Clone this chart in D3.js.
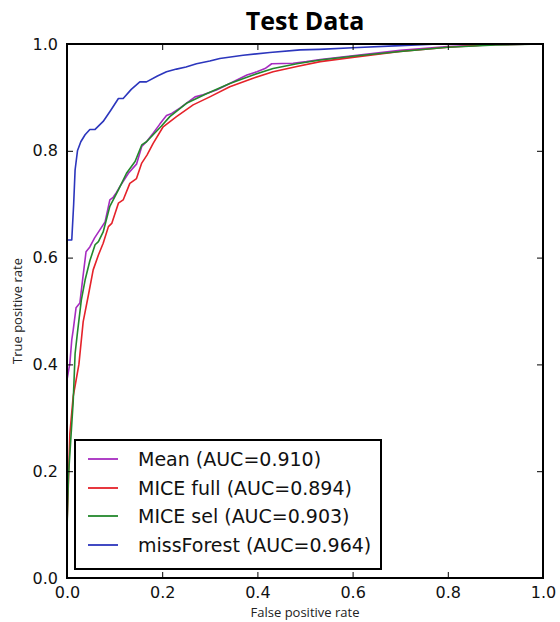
<!DOCTYPE html>
<html>
<head>
<meta charset="utf-8">
<script src="https://cdn.jsdelivr.net/npm/d3@7"></script>
<style>
  html, body { margin: 0; padding: 0; background: #fff; }
  svg { display: block; }
</style>
</head>
<body>
<svg id="chart" width="560" height="622"></svg>
<script>
// ---- data ----
const seriesNames = ["Mean (AUC=0.910)", "MICE full (AUC=0.894)", "MICE sel (AUC=0.903)", "missForest (AUC=0.964)"];
const seriesColors = ["#a62cc0", "#e5222a", "#23882c", "#2c36bd"];

const meanFpr = [0, 0, 0.006, 0.010, 0.013, 0.019, 0.027, 0.033, 0.040, 0.048, 0.058, 0.069, 0.080, 0.090, 0.097, 0.104, 0.111, 0.129, 0.146, 0.157, 0.167, 0.181, 0.195, 0.209, 0.220, 0.237, 0.269, 0.286, 0.314, 0.342, 0.378, 0.399, 0.416, 0.430, 0.475, 0.503, 0.532, 0.6, 0.7, 0.8, 0.9, 1];
const meanTpr = [0, 0.371, 0.402, 0.446, 0.464, 0.506, 0.515, 0.560, 0.611, 0.620, 0.637, 0.652, 0.667, 0.708, 0.713, 0.722, 0.733, 0.758, 0.775, 0.808, 0.817, 0.833, 0.850, 0.866, 0.870, 0.880, 0.901, 0.905, 0.914, 0.926, 0.942, 0.948, 0.954, 0.963, 0.964, 0.967, 0.971, 0.978, 0.988, 0.995, 0.999, 1];

const miceFullFpr = [0, 0, 0.003, 0.006, 0.013, 0.017, 0.025, 0.034, 0.045, 0.055, 0.066, 0.076, 0.087, 0.094, 0.108, 0.118, 0.132, 0.146, 0.157, 0.168, 0.181, 0.202, 0.230, 0.265, 0.300, 0.342, 0.391, 0.433, 0.483, 0.532, 0.6, 0.7, 0.8, 0.9, 1];
const miceFullTpr = [0, 0.10, 0.18, 0.27, 0.34, 0.36, 0.40, 0.48, 0.53, 0.577, 0.605, 0.627, 0.658, 0.664, 0.702, 0.708, 0.739, 0.748, 0.777, 0.792, 0.814, 0.845, 0.864, 0.886, 0.901, 0.920, 0.936, 0.948, 0.958, 0.967, 0.975, 0.986, 0.994, 0.999, 1];

const miceSelFpr = [0, 0, 0.003, 0.008, 0.013, 0.017, 0.022, 0.030, 0.038, 0.048, 0.059, 0.066, 0.076, 0.090, 0.108, 0.125, 0.143, 0.157, 0.167, 0.181, 0.198, 0.216, 0.251, 0.293, 0.342, 0.391, 0.433, 0.483, 0.532, 0.6, 0.7, 0.8, 0.9, 1];
const miceSelTpr = [0, 0.09, 0.19, 0.26, 0.33, 0.42, 0.46, 0.52, 0.558, 0.594, 0.624, 0.630, 0.648, 0.696, 0.727, 0.758, 0.780, 0.811, 0.817, 0.830, 0.846, 0.864, 0.889, 0.907, 0.926, 0.942, 0.954, 0.963, 0.970, 0.977, 0.986, 0.994, 0.998, 1];

const missForestFpr = [0, 0, 0.010, 0.014, 0.017, 0.022, 0.029, 0.038, 0.048, 0.059, 0.076, 0.092, 0.108, 0.118, 0.135, 0.153, 0.167, 0.190, 0.209, 0.230, 0.250, 0.272, 0.300, 0.321, 0.370, 0.426, 0.490, 0.530, 0.6, 0.7, 0.78, 0.9, 1];
const missForestTpr = [0, 0.633, 0.633, 0.700, 0.764, 0.800, 0.817, 0.830, 0.840, 0.840, 0.855, 0.876, 0.898, 0.898, 0.915, 0.929, 0.929, 0.940, 0.948, 0.953, 0.957, 0.963, 0.968, 0.973, 0.979, 0.984, 0.989, 0.990, 0.993, 0.997, 1.0, 1.0, 1.0];

const xTicks = [0, 0.2, 0.4, 0.6, 0.8, 1.0];
const yTicks = [0, 0.2, 0.4, 0.6, 0.8, 1.0];
const titleText = "Test Data";
const xLabel = "False positive rate";
const yLabel = "True positive rate";

// ---- layout ----
const L = 67, R = 543, T = 44, B = 578;
const svg = d3.select("#chart");
const x = d3.scaleLinear().domain([0, 1]).range([L, R]);
const y = d3.scaleLinear().domain([0, 1]).range([B, T]);

const series = [
  { name: seriesNames[0], color: seriesColors[0], fpr: meanFpr, tpr: meanTpr },
  { name: seriesNames[1], color: seriesColors[1], fpr: miceFullFpr, tpr: miceFullTpr },
  { name: seriesNames[2], color: seriesColors[2], fpr: miceSelFpr, tpr: miceSelTpr },
  { name: seriesNames[3], color: seriesColors[3], fpr: missForestFpr, tpr: missForestTpr }
];

svg.append("defs").append("clipPath").attr("id", "clip")
  .append("rect").attr("x", L).attr("y", T).attr("width", R - L).attr("height", B - T);

const line = d3.line().x(d => x(d[0])).y(d => y(d[1]));
const g = svg.append("g").attr("clip-path", "url(#clip)");
series.forEach(s => {
  g.append("path")
    .datum(s.fpr.map((f, i) => [f, s.tpr[i]]))
    .attr("fill", "none")
    .attr("stroke", s.color)
    .attr("stroke-width", 1.6)
    .attr("stroke-linejoin", "round")
    .attr("d", line);
});

// ---- axes (ticks inward on all sides) ----
const tickFont = "'DejaVu Sans', sans-serif";
function styleAxis(sel) {
  sel.select(".domain").remove();
  sel.selectAll(".tick line").attr("stroke", "#000").attr("stroke-width", 1);
  sel.selectAll(".tick text").attr("font-family", tickFont).attr("font-size", "16px").attr("fill", "#111");
}
const xb = svg.append("g").attr("transform", `translate(0,${B})`)
  .call(d3.axisBottom(x).tickValues(xTicks).tickFormat(d3.format(".1f")).tickSizeInner(-6).tickSizeOuter(0).tickPadding(10));
styleAxis(xb);
xb.selectAll(".tick text").attr("dy", "0.6em");
const xt = svg.append("g").attr("transform", `translate(0,${T})`)
  .call(d3.axisTop(x).tickValues(xTicks).tickFormat("").tickSizeInner(-6).tickSizeOuter(0));
styleAxis(xt);
const yl = svg.append("g").attr("transform", `translate(${L},0)`)
  .call(d3.axisLeft(y).tickValues(yTicks).tickFormat(d3.format(".1f")).tickSizeInner(-6).tickSizeOuter(0).tickPadding(9));
styleAxis(yl);
const yr = svg.append("g").attr("transform", `translate(${R},0)`)
  .call(d3.axisRight(y).tickValues(yTicks).tickFormat("").tickSizeInner(-6).tickSizeOuter(0));
styleAxis(yr);

// frame
svg.append("rect").attr("x", L).attr("y", T).attr("width", R - L).attr("height", B - T)
  .attr("fill", "none").attr("stroke", "#000").attr("stroke-width", 2);

// ---- title and labels ----
svg.append("text").attr("x", (L + R) / 2).attr("y", 30).attr("text-anchor", "middle")
  .attr("font-family", "'Open Sans', sans-serif").attr("font-weight", "bold").attr("font-size", "25px")
  .attr("fill", "#000").text(titleText);
svg.append("text").attr("x", (L + R) / 2).attr("y", 617).attr("text-anchor", "middle")
  .attr("font-family", "'Open Sans', sans-serif").attr("font-size", "13px").attr("fill", "#222").text(xLabel);
svg.append("text").attr("transform", `translate(22,${(T + B) / 2}) rotate(-90)`).attr("text-anchor", "middle")
  .attr("font-family", "'Open Sans', sans-serif").attr("font-size", "13px").attr("fill", "#222").text(yLabel);

// ---- legend ----
const lg = svg.append("g");
lg.append("rect").attr("x", 75).attr("y", 440).attr("width", 306).attr("height", 129)
  .attr("fill", "#fff").attr("stroke", "#000").attr("stroke-width", 2);
const rowY = [459, 488, 516, 545];
series.forEach((s, i) => {
  lg.append("line").attr("x1", 88).attr("x2", 118).attr("y1", rowY[i]).attr("y2", rowY[i])
    .attr("stroke", s.color).attr("stroke-width", 1.8);
  lg.append("text").attr("x", 138).attr("y", rowY[i]).attr("dy", "0.36em")
    .attr("font-family", tickFont).attr("font-size", "19px").attr("fill", "#111").text(s.name);
});
</script>
</body>
</html>
